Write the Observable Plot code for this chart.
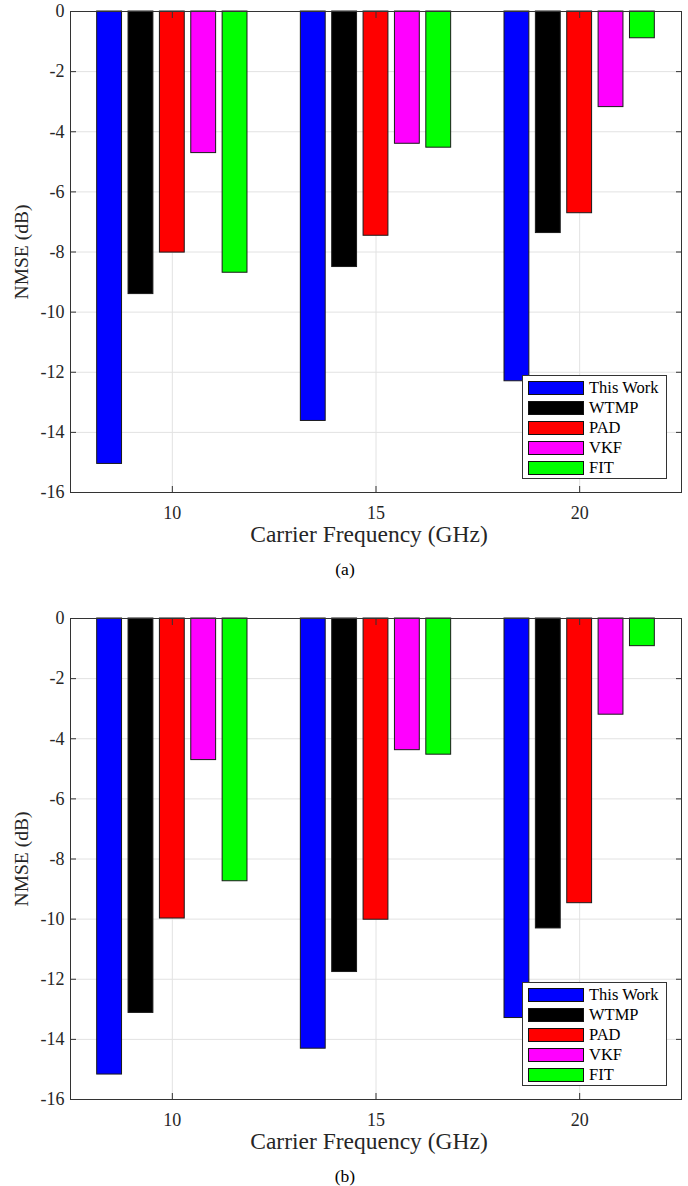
<!DOCTYPE html>
<html><head><meta charset="utf-8">
<script src="https://cdn.jsdelivr.net/npm/d3@7"></script>
<script src="https://cdn.jsdelivr.net/npm/@observablehq/plot@0.6"></script>
<style>
body{margin:0;background:#fff;}
#root{position:relative;width:688px;height:1186px;overflow:hidden;font-family:"Liberation Serif","Times New Roman",serif;background:#fff;}
#root svg text{font-family:"Liberation Serif","Times New Roman",serif;}
.panel{position:absolute;left:0;width:688px;}
.lbl{position:absolute;transform:translate(-50%,-50%);white-space:nowrap;color:#262626;line-height:1;}
.ylab{position:absolute;transform:translate(-50%,-50%) rotate(-90deg);white-space:nowrap;color:#262626;font-size:19.5px;line-height:1;}
.xlab{font-family:"Liberation Serif",serif;font-size:23.5px;}
.cap{font-size:17.5px;color:#000;}
.legend{position:absolute;background:#fff;border:1px solid #333;box-sizing:border-box;width:145px;height:104px;}
.legrow{position:absolute;left:5px;height:20px;display:flex;align-items:center;}
.sw{width:56px;height:14px;box-sizing:border-box;border:1px solid #111;}
.lt{margin-left:5px;font-size:16.5px;color:#000;}
</style></head><body><div id="root"></div><script>
// ---- data ----
const freqs = [10, 15, 20];
const seriesNames = ["This Work", "WTMP", "PAD", "VKF", "FIT"];
const seriesColors = ["#0000ff", "#000000", "#ff0000", "#ff00ff", "#00ff00"];
const xTicks = [10, 15, 20];
const yTicks = [0, -2, -4, -6, -8, -10, -12, -14, -16];

// panel (a)
const thisWorkA = [-15.05, -13.62, -12.30];
const wtmpA     = [-9.40, -8.50, -7.37];
const padA      = [-8.02, -7.46, -6.71];
const vkfA      = [-4.71, -4.40, -3.18];
const fitA      = [-8.69, -4.53, -0.89];
// panel (b)
const thisWorkB = [-15.17, -14.31, -13.29];
const wtmpB     = [-13.12, -11.76, -10.31];
const padB      = [-9.98, -10.02, -9.47];
const vkfB      = [-4.71, -4.38, -3.20];
const fitB      = [-8.74, -4.53, -0.92];

// ---- style constants ----
const barStep = 0.77, barHalf = 0.305;

function rowsOf(seriesArrays) {
  const rows = [];
  seriesArrays.forEach((arr, i) => {
    arr.forEach((v, j) => rows.push({freq: freqs[j], idx: i, series: seriesNames[i], color: seriesColors[i], value: v}));
  });
  return rows;
}

function makePlot(rows) {
  return Plot.plot({
    width: 688, height: 520,
    marginTop: 11, marginBottom: 28, marginLeft: 70, marginRight: 7,
    style: {fontFamily: "'Liberation Serif', 'Times New Roman', serif", fontSize: "18px", color: "#262626", background: "white", overflow: "visible"},
    x: {domain: [7.5, 22.5]},
    y: {domain: [-16, 0]},
    color: {type: "identity"},
    marks: [
      Plot.gridY(yTicks, {stroke: "#e2e2e2", strokeOpacity: 1}),
      Plot.gridX(xTicks, {stroke: "#e2e2e2", strokeOpacity: 1}),
      Plot.rectY(rows, {
        x1: d => d.freq + (d.idx - 2) * barStep - barHalf,
        x2: d => d.freq + (d.idx - 2) * barStep + barHalf,
        y1: 0, y2: "value",
        fill: "color", stroke: "#1a1a1a", strokeWidth: 1
      }),
      Plot.axisX(xTicks, {anchor: "bottom", tickSize: 0, tickPadding: 14, tickFormat: d => String(d), label: null}),
      Plot.axisY(yTicks, {anchor: "left", tickSize: 0, tickPadding: 6, tickFormat: d => String(d), label: null}),
      Plot.axisX(xTicks, {anchor: "bottom", tickSize: -6, text: null, label: null, stroke: "#333"}),
      Plot.axisX(xTicks, {anchor: "top", tickSize: -6, text: null, label: null, stroke: "#333"}),
      Plot.axisY(yTicks, {anchor: "left", tickSize: -6, text: null, label: null, stroke: "#333"}),
      Plot.axisY(yTicks, {anchor: "right", tickSize: -6, text: null, label: null, stroke: "#333"}),
      Plot.frame({stroke: "#333", strokeWidth: 1})
    ]
  });
}

const root = document.getElementById("root");

function addPanel(top, seriesArrays, captionText) {
  const div = document.createElement("div");
  div.className = "panel";
  div.style.top = top + "px";
  div.appendChild(makePlot(rowsOf(seriesArrays)));
  root.appendChild(div);

  const yl = document.createElement("div");
  yl.className = "ylab";
  yl.textContent = "NMSE (dB)";
  yl.style.left = "22px"; yl.style.top = (top + 252) + "px";
  root.appendChild(yl);

  const xl = document.createElement("div");
  xl.className = "lbl xlab";
  xl.textContent = "Carrier Frequency (GHz)";
  xl.style.left = "369px"; xl.style.top = (top + 535) + "px";
  root.appendChild(xl);

  const cp = document.createElement("div");
  cp.className = "lbl cap";
  cp.textContent = captionText;
  cp.style.left = "345px"; cp.style.top = (top + 570) + "px";
  root.appendChild(cp);

  const lg = document.createElement("div");
  lg.className = "legend";
  lg.style.left = "522px"; lg.style.top = (top + 375) + "px";
  seriesNames.forEach((name, i) => {
    const r = document.createElement("div");
    r.className = "legrow";
    r.style.top = (2 + i * 20) + "px";
    const sw = document.createElement("div");
    sw.className = "sw"; sw.style.background = seriesColors[i];
    const t = document.createElement("span");
    t.className = "lt"; t.textContent = name;
    r.appendChild(sw); r.appendChild(t);
    lg.appendChild(r);
  });
  root.appendChild(lg);
}

addPanel(0, [thisWorkA, wtmpA, padA, vkfA, fitA], "(a)");
addPanel(607, [thisWorkB, wtmpB, padB, vkfB, fitB], "(b)");
</script></body></html>
